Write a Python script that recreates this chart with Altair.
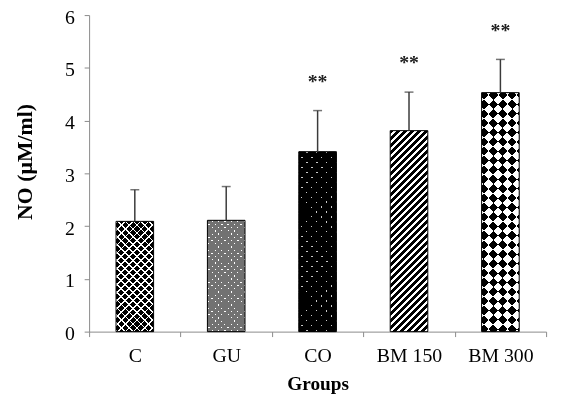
import math
import altair as alt
import pandas as pd

# ---- data ----
groups = ["C", "GU", "CO", "BM 150", "BM 300"]
means = [2.09, 2.11, 3.41, 3.81, 4.53]
upper = [2.69, 2.75, 4.19, 4.54, 5.16]
stars = ["", "", "**", "**", "**"]
y_ticks = [0, 1, 2, 3, 4, 5, 6]

df = pd.DataFrame({"group": groups, "mean": means, "upper": upper, "star": stars})

# ---- layout / style constants ----
W, H = 462, 320
YMAX = 6
BAR_W = 38
PX = H / YMAX
FONT = "Liberation Serif"
AXIS_GRAY = "#8a8a8a"
S2 = math.sqrt(2)


def stripes(h, direction, period, frac, c_on, c_off):
    """Linear gradient with hard stops giving a stripe texture in a bar of height h."""
    w = BAR_W
    if direction == "h":
        vec = dict(x1=0, y1=0, x2=0, y2=1)
        dt = period / h
    elif direction == "v":
        vec = dict(x1=0, y1=0, x2=1, y2=0)
        dt = period / w
    elif direction == "d1":  # "/" lines
        vec = dict(x1=0, y1=0, x2=1, y2=round(h / w, 5))
        dt = period * S2 * w / (w * w + h * h)
    else:  # "\" lines
        vec = dict(x1=0, y1=1, x2=1, y2=round(1 - h / w, 5))
        dt = period * S2 * w / (w * w + h * h)
    stops = []
    k = 0
    while k * dt < 1:
        a = round(k * dt, 5)
        b = round(min((k + frac) * dt, 1), 5)
        c = round(min((k + 1) * dt, 1), 5)
        stops += [
            {"offset": a, "color": c_on},
            {"offset": b, "color": c_on},
            {"offset": b, "color": c_off},
            {"offset": c, "color": c_off},
        ]
        k += 1
    return {"gradient": "linear", **vec, "stops": stops}


CLEAR = "rgba(0,0,0,0)"

xscale = alt.Scale(domain=groups, paddingInner=0, paddingOuter=0)
yscale = alt.Scale(domain=[0, YMAX], nice=False)

xaxis = alt.Axis(
    title="Groups", labelAngle=0, labelFont=FONT, labelFontSize=20, labelColor="black",
    labelPadding=25, labelBaseline="alphabetic",
    titleFont=FONT, titleFontSize=19.5, titleFontWeight="bold", titleColor="black",
    titleY=59, titleBaseline="alphabetic",
    domainColor=AXIS_GRAY, tickColor=AXIS_GRAY, tickSize=5, tickBand="extent", grid=False,
)
yaxis = alt.Axis(
    title="NO (µM/ml)", values=y_ticks, labelFont=FONT, labelFontSize=20, labelColor="black",
    labelPadding=10, labelOffset=2,
    titleFont=FONT, titleFontSize=22, titleFontWeight="bold", titleColor="black",
    titleAngle=270, titleX=-65, titleY=148, titleAlign="center", titleBaseline="middle",
    domainColor=AXIS_GRAY, tickColor=AXIS_GRAY, tickSize=5, grid=False,
)

X = alt.X("group:N", sort=groups, scale=xscale, axis=xaxis)


def Y(field):
    return alt.Y(field, type="quantitative", scale=yscale, axis=yaxis)


base = alt.Chart(df)


def bar(g, fill, **kw):
    return base.transform_filter(alt.datum.group == g).mark_bar(
        size=BAR_W, fill=fill, strokeWidth=0, **kw
    ).encode(x=X, y=Y("mean"))


layers = []
hts = {g: v * PX for g, v in zip(groups, means)}

# C : black spheres on white (black diamonds separated by thin white lines)
h = hts["C"]
layers += [
    bar("C", "black"),
    bar("C", stripes(h, "d1", 5.66, 0.23, "white", CLEAR)),
    bar("C", stripes(h, "d2", 5.66, 0.23, "white", CLEAR)),
]
# GU : grey texture with white dots
h = hts["GU"]
layers += [
    bar("GU", "white"),
    bar("GU", stripes(h, "d1", 4.6, 0.76, "#727272", CLEAR)),
    bar("GU", stripes(h, "d2", 4.6, 0.76, "#727272", CLEAR)),
]
# CO : black with small light dots
h = hts["CO"]
layers += [
    bar("CO", "#c8c8c8"),
    bar("CO", stripes(h, "d1", 7.07, 0.83, "black", CLEAR)),
    bar("CO", stripes(h, "d2", 7.07, 0.83, "black", CLEAR)),
]
# BM 150 : diagonal hatch
h = hts["BM 150"]
layers += [bar("BM 150", stripes(h, "d1", 5.0, 0.5, "black", "white"))]
# BM 300 : diamond checkerboard (XOR of two hatches)
h = hts["BM 300"]
layers += [
    bar("BM 300", stripes(h, "d1", 13.4, 0.5, "black", "white")),
    bar("BM 300", stripes(h, "d2", 13.4, 0.5, "white", "black"), blend="difference"),
]

outline = base.mark_bar(size=BAR_W, fill="transparent", stroke="black", strokeWidth=1).encode(
    x=X, y=Y("mean")
)
err = base.mark_rule(color="#3a3a3a", strokeWidth=1.5).encode(x=X, y=Y("mean"), y2="upper:Q")
cap = base.mark_tick(color="#3a3a3a", size=9, thickness=1.5).encode(x=X, y=Y("upper"))
txt = base.mark_text(
    font=FONT, fontSize=20, fontWeight="bold", color="#222", baseline="alphabetic", dy=-23
).encode(x=X, y=Y("upper"), text="star:N")

chart = alt.layer(*layers, outline, err, cap, txt).properties(
    width=W, height=H,
    autosize=alt.AutoSizeParams(type="none"),
    padding={"left": 82, "top": 5, "right": 10, "bottom": 72},
).configure_view(stroke=None)

chart.save("out.html", embed_options={"renderer": "svg", "actions": False})
